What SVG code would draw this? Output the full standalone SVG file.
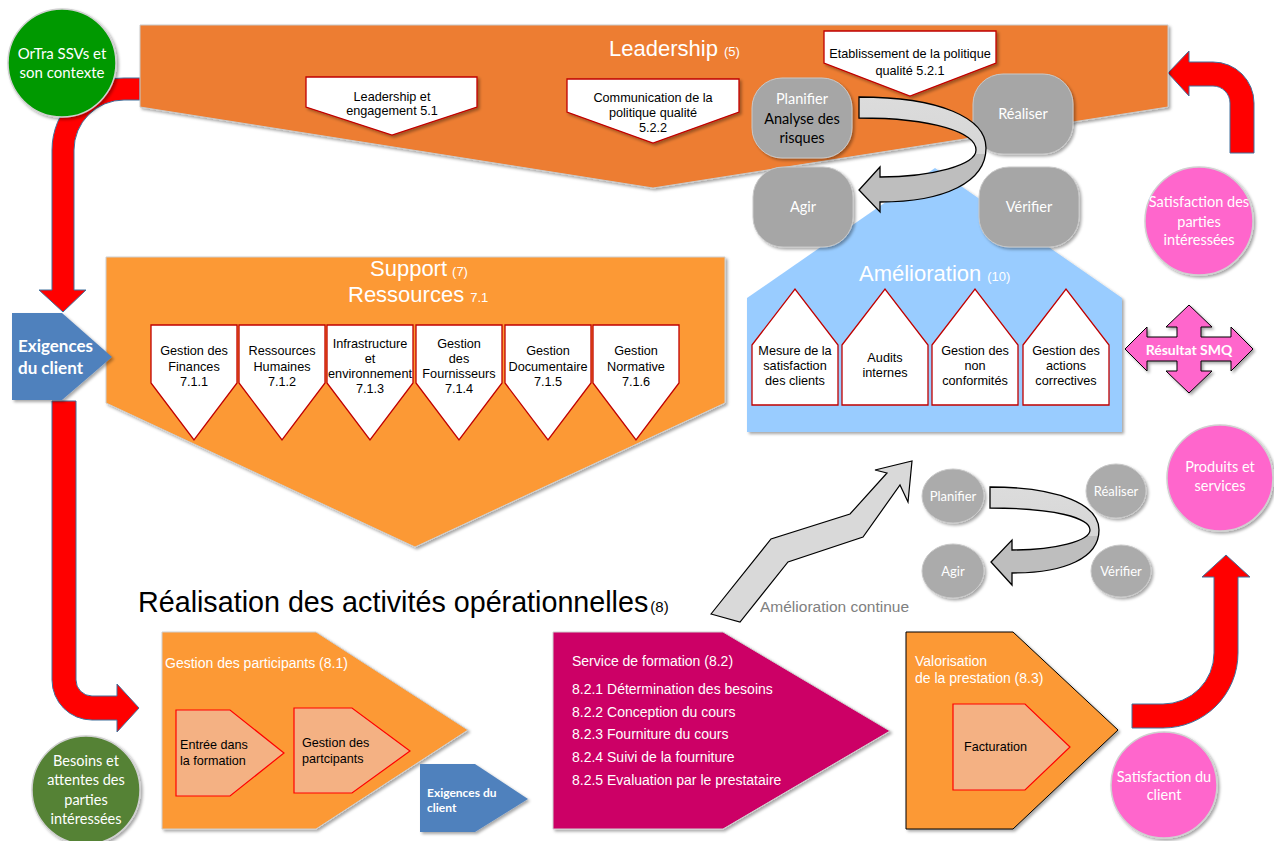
<svg xmlns="http://www.w3.org/2000/svg" width="1274" height="841" viewBox="0 0 1274 841">
<defs>
<filter id="sh" x="-10%" y="-10%" width="130%" height="130%"><feDropShadow dx="2" dy="2" stdDeviation="1.5" flood-color="#000" flood-opacity="0.35"/></filter>
<linearGradient id="gArr" x1="0" y1="0" x2="0" y2="1"><stop offset="0" stop-color="#DCDCDC"/><stop offset="0.5" stop-color="#D6D6D6"/><stop offset="0.5" stop-color="#BEBEBE"/><stop offset="1" stop-color="#BEBEBE"/></linearGradient>
<style>
.ar{font-family:"Liberation Sans",Arial,sans-serif}
.ca{font-family:Lato,"Open Sans",sans-serif}
.blk{fill:#000}
.wh{fill:#fff}
.c{text-anchor:middle}
.box{fill:#fff;stroke:#C00000;stroke-width:1.3}
.salm{fill:#F4B183;stroke:#FF0000;stroke-width:1.2}
.red{fill:#FF0000;stroke:#41719C;stroke-width:1}
.pd{fill:#A6A6A6;stroke:#C8C8C8;stroke-width:1}
.pd2{fill:#ABABAB;stroke:#C8C8C8;stroke-width:1}
.garr{fill:url(#gArr);stroke:#000;stroke-width:1.3}
.f127{font-size:12.7px}
</style>
</defs>

<g id="connectors">
<path class="red" d="M140,78 L124,78 A72,72 0 0 0 52,150 L52,290 L39,290 L63,312 L86,290 L74,290 L74,150 A50,50 0 0 1 124,100 L140,100 Z"/>
<path class="red" d="M52,401 L52,680 A40,40 0 0 0 92,720 L117,720 L117,732 L139,708 L117,684 L117,696 L92,696 A16,16 0 0 1 76,680 L76,401 Z"/>
<path class="red" d="M1230,153 L1230,103 A17,17 0 0 0 1213,86 L1189,86 L1189,96 L1168,73 L1189,51 L1189,62 L1213,62 A41,41 0 0 1 1254,103 L1254,153 Z"/>
<path class="red" d="M1132,704 L1163,704 A51,51 0 0 0 1214,653 L1214,577 L1202,577 L1226,555 L1250,577 L1238,577 L1238,653 A75,75 0 0 1 1163,728 L1132,728 Z"/>
</g>

<g id="leadership">
<polygon points="140,25 1168,25 1168,107 653,188 140,107" fill="#ED7D31" stroke="#C9C9C9" stroke-width="1" filter="url(#sh)"/>
<text class="ar wh" x="609" y="56" font-size="22">Leadership<tspan font-size="13" dx="6">(5)</tspan></text>
</g>
<g id="l51">
<polygon class="box" points="306,77 477,77 477,107 392,135 306,107" filter="url(#sh)"/>
<text class="ar blk c f127" x="392" y="101">Leadership et</text>
<text class="ar blk c f127" x="392" y="115">engagement 5.1</text>
</g>
<g id="l522">
<polygon class="box" points="567,79 739,79 739,112 653,143 567,112" filter="url(#sh)"/>
<text class="ar blk c f127" x="653" y="102">Communication de la</text>
<text class="ar blk c f127" x="653" y="117">politique qualité</text>
<text class="ar blk c f127" x="653" y="132">5.2.2</text>
</g>
<g id="l521">
<polygon class="box" points="824,31 996,31 996,63 910,96 824,63" filter="url(#sh)"/>
<text class="ar blk c f127" x="910" y="58">Etablissement de la politique</text>
<text class="ar blk c f127" x="910" y="75">qualité 5.2.1</text>
</g>

<g id="amelioration">
<polygon points="747,298 935,168 1122,298 1122,432 747,432" fill="#99CCFF" filter="url(#sh)"/>
<text class="ar wh" x="859" y="281" font-size="22">Amélioration<tspan font-size="13" dx="6">(10)</tspan></text>
</g>
<g id="a1">
<polygon class="box" points="752,345 795,289 838,345 838,405 752,405"/>
<text class="ar blk c f127" x="795" y="355">Mesure de la</text>
<text class="ar blk c f127" x="795" y="370">satisfaction</text>
<text class="ar blk c f127" x="795" y="385">des clients</text>
</g>
<g id="a2">
<polygon class="box" points="842,345 885,289 928,345 928,405 842,405"/>
<text class="ar blk c f127" x="885" y="362">Audits</text>
<text class="ar blk c f127" x="885" y="377">internes</text>
</g>
<g id="a3">
<polygon class="box" points="932,345 975,289 1018,345 1018,405 932,405"/>
<text class="ar blk c f127" x="975" y="355">Gestion des</text>
<text class="ar blk c f127" x="975" y="370">non</text>
<text class="ar blk c f127" x="975" y="385">conformités</text>
</g>
<g id="a4">
<polygon class="box" points="1023,345 1066,289 1109,345 1109,405 1023,405"/>
<text class="ar blk c f127" x="1066" y="355">Gestion des</text>
<text class="ar blk c f127" x="1066" y="370">actions</text>
<text class="ar blk c f127" x="1066" y="385">correctives</text>
</g>

<g id="pdca-top">
<rect class="pd" x="752" y="78" width="100" height="80" rx="30" filter="url(#sh)"/>
<text class="ca wh c" x="802" y="104" font-size="14.5">Planifier</text>
<text class="ca blk c" x="802" y="124" font-size="14.5">Analyse des</text>
<text class="ca blk c" x="802" y="143" font-size="14.5">risques</text>
<rect class="pd" x="973" y="74" width="100" height="80" rx="30" filter="url(#sh)"/>
<text class="ca wh c" x="1023" y="119" font-size="14.5">Réaliser</text>
<rect class="pd" x="753" y="167" width="100" height="80" rx="30" filter="url(#sh)"/>
<text class="ca wh c" x="803" y="212" font-size="14.5">Agir</text>
<rect class="pd" x="979" y="167" width="100" height="80" rx="30" filter="url(#sh)"/>
<text class="ca wh c" x="1029" y="212" font-size="14.5">Vérifier</text>
<path class="garr" d="M859,97 C940,97 986,118 986,148 C986,182 945,202 880,202 L880,212 L859,190 L880,167 L880,177 C932,177 976,165 976,150 C976,133 935,118 859,118 Z"/>
</g>

<g id="support">
<polygon points="106,257 725,257 725,403 415,547 106,403" fill="#FC9934" stroke="#CFCFCF" stroke-width="1" filter="url(#sh)"/>
<text class="ar wh" x="370" y="276" font-size="22">Support<tspan font-size="13" dx="5">(7)</tspan></text>
<text class="ar wh" x="348" y="302" font-size="22">Ressources<tspan font-size="13" dx="6">7.1</tspan></text>
</g>
<g id="s711">
<polygon class="box" points="151,325 237,325 237,383 194,440 151,383"/>
<text class="ar blk c f127" x="194" y="355">Gestion des</text>
<text class="ar blk c f127" x="194" y="371">Finances</text>
<text class="ar blk c f127" x="194" y="386">7.1.1</text>
</g>
<g id="s712">
<polygon class="box" points="239,325 325,325 325,383 282,440 239,383"/>
<text class="ar blk c f127" x="282" y="355">Ressources</text>
<text class="ar blk c f127" x="282" y="371">Humaines</text>
<text class="ar blk c f127" x="282" y="386">7.1.2</text>
</g>
<g id="s713">
<polygon class="box" points="327,325 413,325 413,383 370,440 327,383"/>
<text class="ar blk c f127" x="370" y="348">Infrastructure</text>
<text class="ar blk c f127" x="370" y="363">et</text>
<text class="ar blk c f127" x="370" y="378">environnement</text>
<text class="ar blk c f127" x="370" y="393">7.1.3</text>
</g>
<g id="s714">
<polygon class="box" points="416,325 502,325 502,383 459,440 416,383"/>
<text class="ar blk c f127" x="459" y="348">Gestion</text>
<text class="ar blk c f127" x="459" y="363">des</text>
<text class="ar blk c f127" x="459" y="378">Fournisseurs</text>
<text class="ar blk c f127" x="459" y="393">7.1.4</text>
</g>
<g id="s715">
<polygon class="box" points="505,325 591,325 591,383 548,440 505,383"/>
<text class="ar blk c f127" x="548" y="355">Gestion</text>
<text class="ar blk c f127" x="548" y="371">Documentaire</text>
<text class="ar blk c f127" x="548" y="386">7.1.5</text>
</g>
<g id="s716">
<polygon class="box" points="593,325 679,325 679,383 636,440 593,383"/>
<text class="ar blk c f127" x="636" y="355">Gestion</text>
<text class="ar blk c f127" x="636" y="371">Normative</text>
<text class="ar blk c f127" x="636" y="386">7.1.6</text>
</g>

<g id="ortra">
<circle cx="62" cy="63" r="54" fill="#009900" stroke="#D0D0D0" stroke-width="1.5" filter="url(#sh)"/>
<text class="ca wh c" x="62" y="59" font-size="15">OrTra SSVs et</text>
<text class="ca wh c" x="62" y="78" font-size="15">son contexte</text>
</g>
<g id="satisfaction-parties">
<circle cx="1199" cy="221" r="54" fill="#FF66CC" stroke="#D0D0D0" stroke-width="1.5" filter="url(#sh)"/>
<text class="ca wh c" x="1199" y="207" font-size="14.5">Satisfaction des</text>
<text class="ca wh c" x="1199" y="227" font-size="14.5">parties</text>
<text class="ca wh c" x="1199" y="245" font-size="14.5">intéressées</text>
</g>
<g id="exigences">
<polygon points="12,313 62,313 112,357 62,400 12,400" fill="#4F81BD" filter="url(#sh)"/>
<text class="ca wh" x="18" y="352" font-size="17" font-weight="bold">Exigences</text>
<text class="ca wh" x="18" y="374" font-size="17" font-weight="bold">du client</text>
</g>
<g id="resultat-smq">
<polygon points="1189,305 1212,327 1201,327 1201,337 1231,337 1231,327 1253,349 1231,371 1231,361 1201,361 1201,371 1212,371 1189,393 1166,371 1177,371 1177,361 1147,361 1147,371 1125,349 1147,327 1147,337 1177,337 1177,327 1166,327" fill="#FF66CC" stroke="#000" stroke-width="1" filter="url(#sh)"/>
<text class="ca wh c" x="1189" y="355" font-size="14" font-weight="bold">Résultat SMQ</text>
</g>
<g id="produits">
<circle cx="1220" cy="478" r="53" fill="#FF66CC" stroke="#D0D0D0" stroke-width="1.5" filter="url(#sh)"/>
<text class="ca wh c" x="1220" y="472" font-size="14.5">Produits et</text>
<text class="ca wh c" x="1220" y="491" font-size="14.5">services</text>
</g>

<g id="amelioration-continue">
<polygon points="711,614 771,539 850,514 887,473 875,470 912,461 908,502 900,485 863,537 788,562 740,622" fill="#D9D9D9" stroke="#000" stroke-width="1.2"/>
<text class="ar" x="760" y="612" font-size="15.5" fill="#808080">Amélioration continue</text>
</g>

<g id="pdca-bottom">
<ellipse class="pd2" cx="953" cy="496" rx="31" ry="27" filter="url(#sh)"/>
<text class="ca wh c" x="953" y="501" font-size="13">Planifier</text>
<ellipse class="pd2" cx="1116" cy="491" rx="30" ry="27" filter="url(#sh)"/>
<text class="ca wh c" x="1116" y="496" font-size="13">Réaliser</text>
<ellipse class="pd2" cx="953" cy="571" rx="31" ry="27" filter="url(#sh)"/>
<text class="ca wh c" x="953" y="576" font-size="13">Agir</text>
<ellipse class="pd2" cx="1121" cy="571" rx="30" ry="26" filter="url(#sh)"/>
<text class="ca wh c" x="1121" y="576" font-size="13">Vérifier</text>
<path class="garr" d="M990,487 C1060,487 1099,505 1099,530 C1099,558 1065,573 1012,573 L1012,585 L991,562 L1012,540 L1012,550 C1055,550 1090,541 1090,530 C1090,518 1055,508 990,508 Z"/>
</g>

<g id="realisation-title">
<text class="ar blk" x="138" y="612" font-size="28.7">Réalisation des activités opérationnelles<tspan font-size="15" dx="2">(8)</tspan></text>
</g>

<g id="gestion-participants">
<polygon points="162,632 316,632 468,730 316,829 162,829" fill="#FC9934" stroke="#CFCFCF" stroke-width="1" filter="url(#sh)"/>
<text class="ar wh" x="165" y="668" font-size="14">Gestion des participants (8.1)</text>
</g>
<g id="entree">
<polygon class="salm" points="176,710 230,710 284,753 230,796 176,796"/>
<text class="ar blk" x="180" y="749" font-size="12.6">Entrée dans</text>
<text class="ar blk" x="180" y="765" font-size="12.6">la formation</text>
</g>
<g id="gestion-partcipants">
<polygon class="salm" points="294,708 352,708 410,751 352,793 294,793"/>
<text class="ar blk" x="302" y="747" font-size="12.6">Gestion des</text>
<text class="ar blk" x="302" y="763" font-size="12.6">partcipants</text>
</g>
<g id="exigences-small">
<polygon points="420,764 475,764 528,799 475,832 420,832" fill="#4F81BD" filter="url(#sh)"/>
<text class="ca wh" x="427" y="797" font-size="12" font-weight="bold">Exigences du</text>
<text class="ca wh" x="427" y="812" font-size="12" font-weight="bold">client</text>
</g>
<g id="besoins">
<circle cx="86" cy="790" r="54" fill="#548235" stroke="#D0D0D0" stroke-width="1.5" filter="url(#sh)"/>
<text class="ca wh c" x="86" y="766" font-size="14.5">Besoins et</text>
<text class="ca wh c" x="86" y="785" font-size="14.5">attentes des</text>
<text class="ca wh c" x="86" y="805" font-size="14.5">parties</text>
<text class="ca wh c" x="86" y="824" font-size="14.5">intéressées</text>
</g>

<g id="service-formation">
<polygon points="553,632 723,632 890,731 723,829 553,829" fill="#CC0066" stroke="#D0D0D0" stroke-width="1" filter="url(#sh)"/>
<text class="ar wh" x="572" y="666" font-size="14">Service de formation (8.2)</text>
<text class="ar wh" x="572" y="694" font-size="14">8.2.1 Détermination des besoins</text>
<text class="ar wh" x="572" y="717" font-size="14">8.2.2 Conception du cours</text>
<text class="ar wh" x="572" y="739" font-size="14">8.2.3 Fourniture du cours</text>
<text class="ar wh" x="572" y="762" font-size="14">8.2.4 Suivi de la fourniture</text>
<text class="ar wh" x="572" y="785" font-size="14">8.2.5 Evaluation par le prestataire</text>
</g>

<g id="valorisation">
<polygon points="906,632 1013,632 1118,730 1013,829 906,829" fill="#FC9934" stroke="#000" stroke-width="1" filter="url(#sh)"/>
<text class="ar wh" x="915" y="666" font-size="14">Valorisation</text>
<text class="ar wh" x="915" y="683" font-size="14">de la prestation (8.3)</text>
</g>
<g id="facturation">
<polygon class="salm" points="953,704 1025,704 1070,747 1025,790 953,790"/>
<text class="ar blk" x="964" y="751" font-size="12.6">Facturation</text>
</g>

<g id="satisfaction-client">
<circle cx="1164" cy="785" r="53" fill="#FF66CC" stroke="#D0D0D0" stroke-width="1.5" filter="url(#sh)"/>
<text class="ca wh c" x="1164" y="782" font-size="14.5">Satisfaction du</text>
<text class="ca wh c" x="1164" y="800" font-size="14.5">client</text>
</g>
</svg>
